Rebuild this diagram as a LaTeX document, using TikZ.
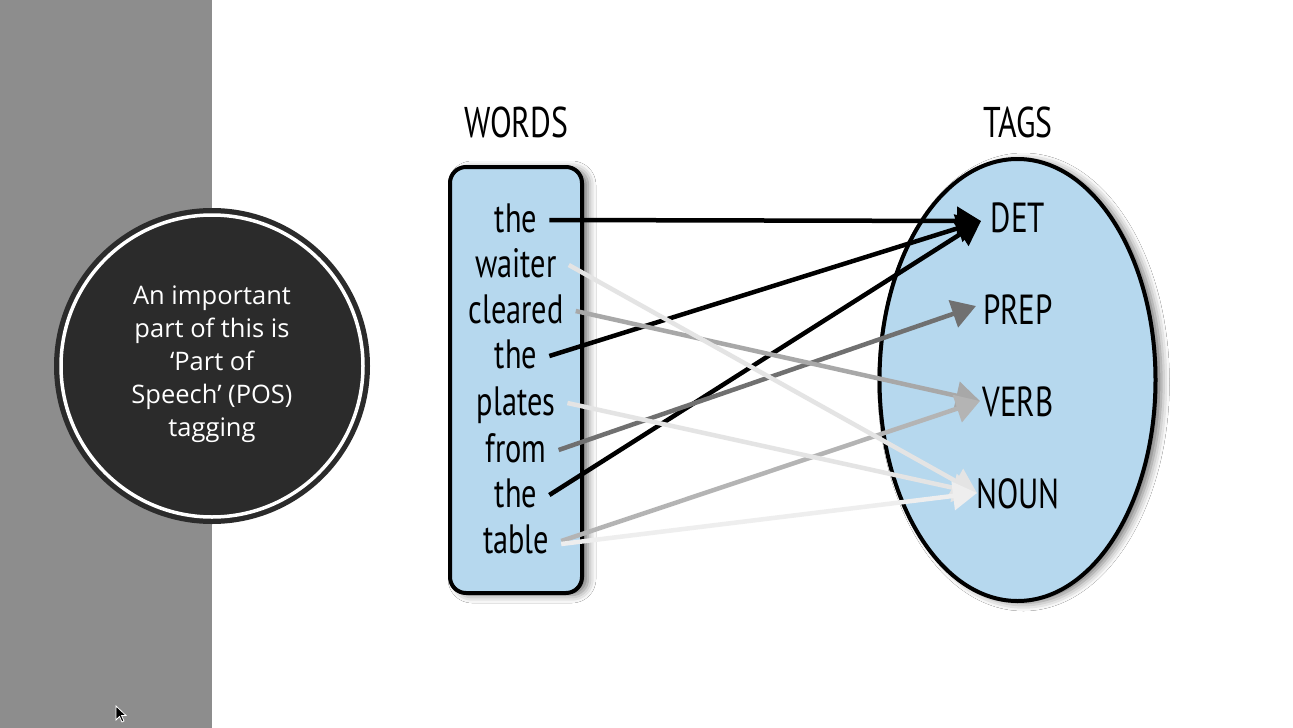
\documentclass[tikz,border=0pt]{standalone}
\usepackage{fontspec}
\setmainfont{Open Sans}
\newfontfamily\condfont[FakeStretch=0.74]{PT Sans}
\usetikzlibrary{arrows.meta,shapes.geometric,shadows.blur}
\definecolor{panelgray}{HTML}{8D8D8D}
\definecolor{discdark}{HTML}{2B2B2B}
\definecolor{paleblue}{HTML}{B6D8EE}
\definecolor{arrA}{HTML}{000000}
\definecolor{arrB}{HTML}{707070}
\definecolor{arrC}{HTML}{A8A8A8}
\definecolor{arrD}{HTML}{B4B4B4}
\definecolor{arrE}{HTML}{E4E4E4}
\definecolor{arrF}{HTML}{EEEEEE}
\begin{document}
\begin{tikzpicture}[x=1pt,y=-1pt,
  softshadow/.style={blur shadow={shadow xshift=6pt,shadow yshift=-2pt,shadow blur radius=8pt,shadow opacity=55}},
  wordtxt/.style={font=\condfont\fontsize{41}{41}\selectfont, text height=30pt, text depth=6pt, inner xsep=12pt, inner ysep=0pt},
  tagtxt/.style={font=\condfont\fontsize{42}{42}\selectfont, text height=30pt, text depth=0pt, inner sep=0pt},
  headtxt/.style={font=\condfont\fontsize{43}{43}\selectfont, text height=30pt, text depth=0pt, inner sep=0pt},
  link/.style={line width=4.5pt, -{Triangle[length=24pt,width=28pt]}}
]
\useasboundingbox (0,0) rectangle (1293,728);
\fill[white] (0,0) rectangle (1293,728);
\fill[panelgray] (0,0) rectangle (212,728);

% disc
\node[circle, fill=discdark, minimum size=316pt, inner sep=0pt] (disc) at (212,366) {};
\draw[white, line width=3.5pt] (disc.center) circle[radius=151];
\node[text=white, align=center, font=\fontsize{25.5}{33}\selectfont] (disctext) at (212,364)
  {An important\\part of this is\\‘Part of\\Speech’ (POS)\\tagging};

% words box and tags oval
\node[draw, line width=4pt, rounded corners=16pt, fill=paleblue, minimum width=132pt, minimum height=426pt, inner sep=0pt, softshadow] (wordsbox) at (516,380) {};
\node[ellipse, draw, line width=4pt, fill=paleblue, minimum width=276pt, minimum height=442pt, inner sep=0pt, softshadow] (tagsoval) at (1017.5,380) {};

% headers
\node[headtxt] (wordshead) at (516.5,122) {WORDS};
\node[headtxt] (tagshead) at (1018,122) {TAGS};

% words
\node[wordtxt] (w1) at (516,220) {the};
\node[wordtxt] (w2) at (516,265) {waiter};
\node[wordtxt] (w3) at (516,311) {cleared};
\node[wordtxt] (w4) at (516,356) {the};
\node[wordtxt] (w5) at (516,403) {plates};
\node[wordtxt] (w6) at (516,450) {from};
\node[wordtxt] (w7) at (516,495) {the};
\node[wordtxt] (w8) at (516,541) {table};

% tags
\node[tagtxt] (t1) at (1018,217) {DET};
\node[tagtxt] (t2) at (1018,309) {PREP};
\node[tagtxt] (t3) at (1018,401) {VERB};
\node[tagtxt] (t4) at (1018,493) {NOUN};

% arrows
\draw[link, arrA] (w1.east) -- ([xshift=-37pt,yshift=-4pt]t1.center);
\draw[link, arrA] (w4.east) -- ([xshift=-37pt,yshift=-4pt]t1.center);
\draw[link, arrA] (w7.east) -- ([xshift=-37pt,yshift=-4pt]t1.center);
\draw[link, arrB] (w6.east) -- ([xshift=-42pt,yshift=3pt]t2.center);
\draw[link, arrC] (w3.east) -- ([xshift=-38pt]t3.center);
\draw[link, arrD] (w8.east) -- ([xshift=-38pt]t3.center);
\draw[link, arrE] (w2.east) -- ([xshift=-41pt]t4.center);
\draw[link, arrE] (w5.east) -- ([xshift=-41pt]t4.center);
\draw[link, arrF] ([yshift=-3pt]w8.east) -- ([xshift=-41pt]t4.center);

% mouse pointer
\fill[black, draw=white, line width=0.8pt] (116,706) -- (116,720) -- (119.5,716.5) -- (122,722) -- (124,721) -- (121.5,715.5) -- (126,715.5) -- cycle;
\end{tikzpicture}
\end{document}
